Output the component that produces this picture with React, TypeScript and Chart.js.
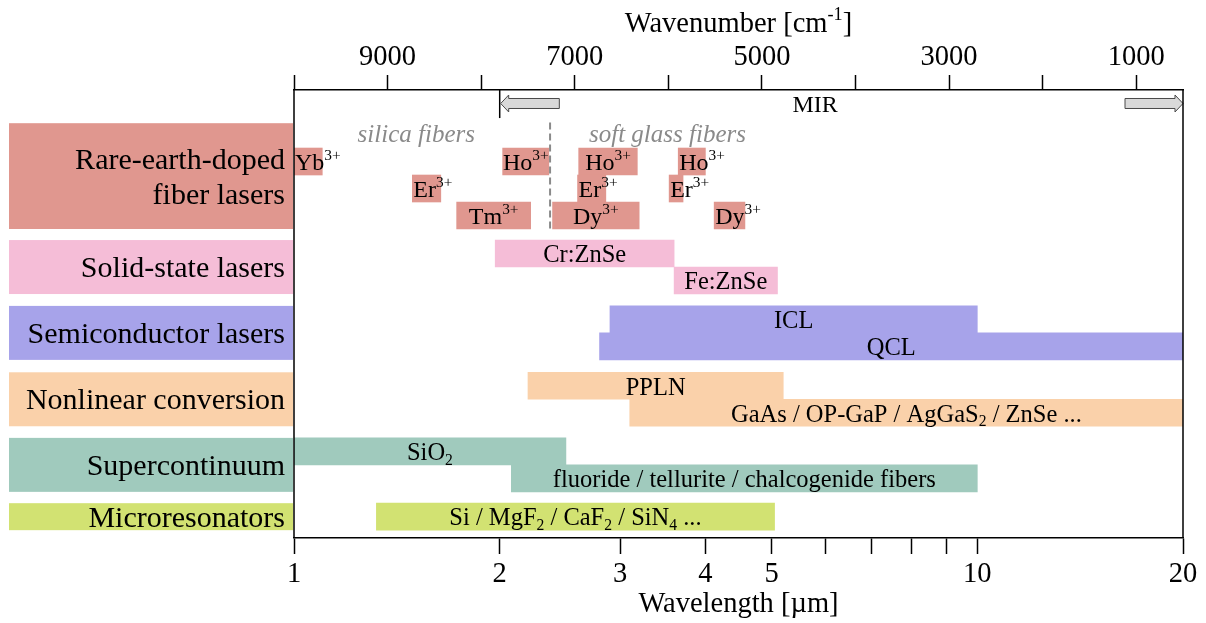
import React, { useEffect, useRef } from 'react';
import { Chart, registerables } from 'chart.js';

Chart.register(...registerables);

const SERIF = "'Liberation Serif', 'Times New Roman', Times, serif";

// ---------- axes ----------
const wavelengthMin = 1;
const wavelengthMax = 20;
const wavelengthTicks = [1, 2, 3, 4, 5, 6, 7, 8, 9, 10, 20];
const wavelengthTickLabels = [1, 2, 3, 4, 5, 10, 20];
const wavenumberMin = 500;
const wavenumberMax = 10000;
const wavenumberTicks = [10000, 9000, 8000, 7000, 6000, 5000, 4000, 3000, 2000, 1000];
const wavenumberTickLabels = [9000, 7000, 5000, 3000, 1000];
const wavelengthTitle = 'Wavelength [µm]';
const wavenumberTitle = 'Wavenumber [cm^{-1}]';

// ---------- groups ----------
const groupNames = [
  ['Rare-earth-doped', 'fiber lasers'],
  ['Solid-state lasers'],
  ['Semiconductor lasers'],
  ['Nonlinear conversion'],
  ['Supercontinuum'],
  ['Microresonators'],
];
const groupColors = ['#e0978f', '#f5bdd7', '#a7a3ea', '#fad1aa', '#a0cabd', '#d2e272'];

// ---------- bars (wavelength ranges in µm) ----------
const rareEarthLabels = ['Yb^{3+}', 'Ho^{3+}', 'Er^{3+}', 'Tm^{3+}', 'Dy^{3+}', 'Ho^{3+}', 'Er^{3+}', 'Ho^{3+}', 'Er^{3+}', 'Dy^{3+}'];
const rareEarthStart = [1.0, 2.02, 1.49, 1.73, 2.39, 2.61, 2.6, 3.65, 3.54, 4.12];
const rareEarthEnd = [1.1, 2.36, 1.64, 2.22, 3.2, 3.18, 2.86, 4.0, 3.71, 4.57];
const rareEarthRow = [0, 0, 1, 2, 2, 0, 1, 0, 1, 2];

const solidStateLabels = ['Cr:ZnSe', 'Fe:ZnSe'];
const solidStateStart = [1.97, 3.6];
const solidStateEnd = [3.6, 5.1];
const solidStateRow = [0, 1];

const semiconductorLabels = ['ICL', 'QCL'];
const semiconductorStart = [2.9, 2.8];
const semiconductorEnd = [10, 20];
const semiconductorRow = [0, 1];

const nonlinearLabels = ['PPLN', 'GaAs / OP-GaP / AgGaS_{2} / ZnSe ...'];
const nonlinearStart = [2.2, 3.1];
const nonlinearEnd = [5.2, 20];
const nonlinearRow = [0, 1];

const supercontinuumLabels = ['SiO_{2}', 'fluoride / tellurite / chalcogenide fibers'];
const supercontinuumStart = [1.0, 2.08];
const supercontinuumEnd = [2.5, 10];
const supercontinuumRow = [0, 1];

const microresonatorLabels = ['Si / MgF_{2} / CaF_{2} / SiN_{4} ...'];
const microresonatorStart = [1.32];
const microresonatorEnd = [5.05];
const microresonatorRow = [0];

// ---------- annotations ----------
const fiberDivider = 2.37;
const fiberTypeLabels = ['silica fibers', 'soft glass fibers'];
const fiberTypeCenters = [1.51, 3.52];
const mirLabel = 'MIR';
const mirStart = 2;
const mirLabelAt = 5.79;
const mirLeftArrowEnd = 2.445;
const mirRightArrowStart = 16.45;

// ---------- vertical layout (lane units on the hidden y scale) ----------
const laneMax = 16.6;
const groupFirstLane = [2.15, 5.56, 8.0, 10.46, 12.89, 15.31];
const groupLaneCount = [3, 2, 2, 2, 2, 1];
const groupBoxTop = [1.23, 5.56, 8.0, 10.46, 12.89, 15.31];
const fiberDividerLanes = [1.2, 5.26];
const fiberTypeBaselineLane = 1.91;
const mirArrowLane = 0.5;
const mirTickLane = 1.04;
const mirLabelBaselineLane = 0.83;

const barGroups = [
  { labels: rareEarthLabels, start: rareEarthStart, end: rareEarthEnd, row: rareEarthRow, size: 24 },
  { labels: solidStateLabels, start: solidStateStart, end: solidStateEnd, row: solidStateRow, size: 24.5 },
  { labels: semiconductorLabels, start: semiconductorStart, end: semiconductorEnd, row: semiconductorRow, size: 24.5 },
  { labels: nonlinearLabels, start: nonlinearStart, end: nonlinearEnd, row: nonlinearRow, size: 24.5 },
  { labels: supercontinuumLabels, start: supercontinuumStart, end: supercontinuumEnd, row: supercontinuumRow, size: 24.5 },
  { labels: microresonatorLabels, start: microresonatorStart, end: microresonatorEnd, row: microresonatorRow, size: 24.5 },
];

type Part = { t: string; m: 'n' | 'sup' | 'sub' };

function parseRich(s: string): Part[] {
  const parts: Part[] = [];
  const re = /\^\{([^}]*)\}|_\{([^}]*)\}/g;
  let last = 0;
  let m: RegExpExecArray | null;
  while ((m = re.exec(s))) {
    if (m.index > last) parts.push({ t: s.slice(last, m.index), m: 'n' });
    if (m[1] !== undefined) parts.push({ t: m[1], m: 'sup' });
    else parts.push({ t: m[2], m: 'sub' });
    last = re.lastIndex;
  }
  if (last < s.length) parts.push({ t: s.slice(last), m: 'n' });
  return parts;
}

function fontFor(size: number, m: string, style: string) {
  const s = m === 'n' ? size : size * 0.64;
  return `${style ? style + ' ' : ''}${s}px ${SERIF}`;
}

function richWidth(ctx: CanvasRenderingContext2D, s: string, size: number, style = '') {
  let w = 0;
  for (const p of parseRich(s)) {
    ctx.font = fontFor(size, p.m, style);
    w += ctx.measureText(p.t).width;
  }
  return w;
}

function drawRich(
  ctx: CanvasRenderingContext2D,
  s: string,
  x: number,
  baseline: number,
  size: number,
  align: 'left' | 'center' | 'right',
  color = '#000',
  style = ''
) {
  const w = richWidth(ctx, s, size, style);
  let cx = align === 'left' ? x : align === 'center' ? x - w / 2 : x - w;
  ctx.save();
  ctx.fillStyle = color;
  ctx.textAlign = 'left';
  ctx.textBaseline = 'alphabetic';
  for (const p of parseRich(s)) {
    ctx.font = fontFor(size, p.m, style);
    const dy = p.m === 'sup' ? -size * 0.42 : p.m === 'sub' ? size * 0.2 : 0;
    ctx.fillText(p.t, cx, baseline + dy);
    cx += ctx.measureText(p.t).width;
  }
  ctx.restore();
}

function blockArrow(ctx: CanvasRenderingContext2D, xTail: number, xTip: number, yc: number) {
  const bodyH = 5;
  const headH = 8.5;
  const headL = 8;
  const dir = Math.sign(xTip - xTail);
  const xNeck = xTip - dir * headL;
  ctx.save();
  ctx.beginPath();
  ctx.moveTo(xTail, yc - bodyH);
  ctx.lineTo(xNeck, yc - bodyH);
  ctx.lineTo(xNeck, yc - headH);
  ctx.lineTo(xTip, yc);
  ctx.lineTo(xNeck, yc + headH);
  ctx.lineTo(xNeck, yc + bodyH);
  ctx.lineTo(xTail, yc + bodyH);
  ctx.closePath();
  ctx.fillStyle = '#d9d9d9';
  ctx.fill();
  ctx.strokeStyle = '#4a4a4a';
  ctx.lineWidth = 1;
  ctx.stroke();
  ctx.restore();
}

const overlayPlugin = {
  id: 'overlay',
  afterDatasetsDraw(chart: any) {
    const { ctx, chartArea, scales } = chart;
    const xs = scales.x;
    const ys = scales.y;

    // bar labels
    barGroups.forEach((g, gi) => {
      g.labels.forEach((lab, i) => {
        const x0 = xs.getPixelForValue(g.start[i]);
        const x1 = xs.getPixelForValue(g.end[i]);
        const yc = ys.getPixelForValue(groupFirstLane[gi] + g.row[i] + 0.5);
        const w = richWidth(ctx, lab, g.size);
        const left = w <= x1 - x0 ? (x0 + x1) / 2 - w / 2 : x0 + 1;
        drawRich(ctx, lab, left, yc + g.size * 0.36, g.size, 'left');
      });
    });

    // fiber divider
    ctx.save();
    ctx.strokeStyle = '#8a8a8a';
    ctx.lineWidth = 2;
    ctx.setLineDash([7, 4]);
    const xd = xs.getPixelForValue(fiberDivider);
    ctx.beginPath();
    ctx.moveTo(xd, ys.getPixelForValue(fiberDividerLanes[0]));
    ctx.lineTo(xd, ys.getPixelForValue(fiberDividerLanes[1]));
    ctx.stroke();
    ctx.restore();
    fiberTypeLabels.forEach((lab, i) => {
      drawRich(ctx, lab, xs.getPixelForValue(fiberTypeCenters[i]), ys.getPixelForValue(fiberTypeBaselineLane), 25, 'center', '#8a8a8a', 'italic');
    });

    // MIR marker
    const xm = xs.getPixelForValue(mirStart);
    ctx.save();
    ctx.strokeStyle = '#000';
    ctx.lineWidth = 1.5;
    ctx.beginPath();
    ctx.moveTo(xm, chartArea.top);
    ctx.lineTo(xm, ys.getPixelForValue(mirTickLane));
    ctx.stroke();
    ctx.restore();
    const ya = ys.getPixelForValue(mirArrowLane);
    blockArrow(ctx, xs.getPixelForValue(mirLeftArrowEnd), xm + 1, ya);
    blockArrow(ctx, xs.getPixelForValue(mirRightArrowStart), xs.getPixelForValue(wavelengthMax), ya);
    drawRich(ctx, mirLabel, xs.getPixelForValue(mirLabelAt), ys.getPixelForValue(mirLabelBaselineLane), 24, 'center');
  },
  afterDraw(chart: any) {
    const { ctx, chartArea, scales } = chart;
    const ys = scales.y;

    // plot frame sides
    ctx.save();
    ctx.strokeStyle = '#000';
    ctx.lineWidth = 1.5;
    ctx.beginPath();
    ctx.moveTo(chartArea.left, chartArea.top);
    ctx.lineTo(chartArea.left, chartArea.bottom);
    ctx.moveTo(chartArea.right, chartArea.top);
    ctx.lineTo(chartArea.right, chartArea.bottom);
    ctx.stroke();
    ctx.restore();

    // group label boxes
    groupNames.forEach((lines, gi) => {
      const yTop = ys.getPixelForValue(groupBoxTop[gi]);
      const yBot = ys.getPixelForValue(groupFirstLane[gi] + groupLaneCount[gi]);
      ctx.save();
      ctx.fillStyle = groupColors[gi];
      ctx.fillRect(9, yTop, chartArea.left - 10, yBot - yTop);
      ctx.restore();
      const yc = (yTop + yBot) / 2;
      const lh = 35;
      lines.forEach((ln, li) => {
        const base = yc + 10 + (li - (lines.length - 1) / 2) * lh;
        drawRich(ctx, ln, chartArea.left - 9, base, 30, 'right');
      });
    });

    // axis titles
    const cx = (chartArea.left + chartArea.right) / 2;
    drawRich(ctx, wavenumberTitle, cx, chartArea.top - 58, 28.5, 'center');
    drawRich(ctx, wavelengthTitle, cx, chartArea.bottom + 74, 28.5, 'center');
  },
};

export default function App() {
  const canvasRef = useRef<HTMLCanvasElement | null>(null);

  useEffect(() => {
    const canvas = canvasRef.current;
    if (!canvas) return;

    const datasets = barGroups.map((g, gi) => ({
      type: 'bar' as const,
      label: groupNames[gi].join(' '),
      data: g.start.map((s, i) => ({ y: groupFirstLane[gi] + g.row[i] + 0.5, x: [s, g.end[i]] })),
      backgroundColor: groupColors[gi],
      borderWidth: 0,
      grouped: false,
      barPercentage: 1,
      categoryPercentage: 1,
      xAxisID: 'x',
      yAxisID: 'y',
    }));

    const chart = new Chart(canvas, {
      type: 'bar',
      data: { datasets: datasets as any },
      options: {
        indexAxis: 'y',
        responsive: true,
        maintainAspectRatio: false,
        animation: false,
        layout: { padding: { left: 294, right: 23, top: 0, bottom: 0 } },
        plugins: { legend: { display: false }, tooltip: { enabled: false } },
        scales: {
          x: {
            type: 'logarithmic',
            position: 'bottom',
            offset: false,
            min: wavelengthMin,
            max: wavelengthMax,
            afterBuildTicks: (s: any) => {
              s.ticks = wavelengthTicks.map((v) => ({ value: v }));
            },
            afterFit: (s: any) => {
              s.height = 85;
            },
            ticks: {
              autoSkip: false,
              maxRotation: 0,
              minRotation: 0,
              padding: 3,
              color: '#000',
              font: { family: SERIF, size: 28.5 },
              callback: (v: any) => (wavelengthTickLabels.includes(Number(v)) ? String(v) : ''),
            },
            grid: { drawOnChartArea: false, drawTicks: true, tickLength: 16, tickColor: '#000', tickWidth: 1.5 },
            border: { display: true, color: '#000', width: 1.5 },
          },
          x2: {
            type: 'linear',
            position: 'top',
            offset: false,
            reverse: true,
            min: wavenumberMin,
            max: wavenumberMax,
            afterBuildTicks: (s: any) => {
              s.ticks = wavenumberTicks.map((v) => ({ value: v }));
            },
            afterFit: (s: any) => {
              s.height = 90;
            },
            ticks: {
              autoSkip: false,
              maxRotation: 0,
              minRotation: 0,
              padding: 0,
              color: '#000',
              font: { family: SERIF, size: 28.5 },
              callback: (v: any) => (wavenumberTickLabels.includes(Number(v)) ? String(v) : ''),
            },
            grid: { drawOnChartArea: false, drawTicks: true, tickLength: 15, tickColor: '#000', tickWidth: 1.5 },
            border: { display: true, color: '#000', width: 1.5 },
          },
          y: {
            type: 'linear',
            display: false,
            offset: false,
            reverse: true,
            min: 0,
            max: laneMax,
            afterBuildTicks: (s: any) => {
              s.ticks = [{ value: 0 }];
            },
          },
        },
      } as any,
      plugins: [overlayPlugin],
    });

    return () => chart.destroy();
  }, []);

  return (
    <div style={{ position: 'absolute', left: 0, top: 0, width: 1206, height: 623, background: '#fff' }}>
      <canvas ref={canvasRef} />
    </div>
  );
}
